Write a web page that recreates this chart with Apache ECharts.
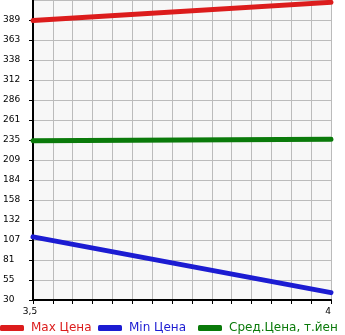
<!DOCTYPE html>
<html><head><meta charset="utf-8">
<script src="https://cdn.jsdelivr.net/npm/echarts@6/dist/echarts.min.js"></script>
<style>html,body{margin:0;padding:0;background:#fff}#c{width:345px;height:335px}</style>
</head><body><div id="c"></div>
<script>
var xValues = [3.5, 4];
var xTickLabels = ['3,5', '4'];
var maxPrice = [388.7, 412];
var minPrice = [111, 39.5];
var avgPrice = [234.5, 236.3];
var yTickLabels = ['30','55','81','107','132','158','184','209','235','261','286','312','338','363','389'];
var seriesNames = ['Max Цена', 'Min Цена', 'Сред.Цена, т.йен'];
var colors = ['#dc1c1c', '#1c1cd2', '#0a7a0a'];
var legendLeft = [0, 98, 198];

function pairs(vals){ return vals.map(function(v,i){ return [xValues[i], v]; }); }
var yMin = 30, yMax = 415, steps = 15;

var chart = echarts.init(document.getElementById('c'), null, {renderer:'canvas'});
var font = 'DejaVu Sans';
chart.setOption({
  animation: false,
  grid: {left: 31, top: 0, width: 300, height: 300, show: true, backgroundColor: '#f7f7f7', borderWidth: 0},
  legend: seriesNames.map(function(n,i){
    return {
      left: legendLeft[i], top: 322, itemWidth: 24, itemHeight: 6, padding: 0,
      icon: 'roundRect', selectedMode: false,
      textStyle: {fontFamily: font, fontSize: 12, color: colors[i], padding: [0,0,0,2]},
      data: [n]
    };
  }),
  xAxis: [
    {type: 'value', min: xValues[0], max: xValues[1], show: false},
    {type: 'value', min: 0, max: steps, interval: 1, position: 'bottom',
     axisLine: {show: true, onZero: false, lineStyle: {color: '#000', width: 2}},
     axisTick: {show: true, length: 4, lineStyle: {color: '#000', width: 1}},
     splitLine: {show: true, lineStyle: {color: '#bbbbbb', width: 1}},
     axisLabel: {show: true, margin: 7, fontFamily: font, fontSize: 9, color: '#000',
       padding: [0,6,0,0],
       showMinLabel: true, showMaxLabel: true,
       formatter: function(v){ return v === 0 ? xTickLabels[0] : (v === steps ? xTickLabels[1] : ''); }}}
  ],
  yAxis: [
    {type: 'value', min: yMin, max: yMax, show: false},
    {type: 'value', min: 0, max: steps, interval: 1, position: 'left',
     axisLine: {show: true, onZero: false, lineStyle: {color: '#000', width: 2}},
     axisTick: {show: true, length: 4, lineStyle: {color: '#000', width: 1}},
     splitLine: {show: true, lineStyle: {color: '#bbbbbb', width: 1}},
     axisLabel: {show: true, margin: 30, align: 'left', verticalAlign: 'middle', padding: [0,0,5,0],
       fontFamily: font, fontSize: 9, color: '#000',
       showMaxLabel: false,
       formatter: function(v){ return yTickLabels[v] !== undefined ? yTickLabels[v] : ''; }}}
  ],
  series: [
    {name: seriesNames[0], type: 'line', xAxisIndex: 0, yAxisIndex: 0, data: pairs(maxPrice), showSymbol: false, symbol: 'none',
     lineStyle: {color: colors[0], width: 5, cap: 'round'}, itemStyle: {color: colors[0]}, z: 5},
    {name: seriesNames[1], type: 'line', xAxisIndex: 0, yAxisIndex: 0, data: pairs(minPrice), showSymbol: false, symbol: 'none',
     lineStyle: {color: colors[1], width: 5, cap: 'round'}, itemStyle: {color: colors[1]}, z: 5},
    {name: seriesNames[2], type: 'line', xAxisIndex: 0, yAxisIndex: 0, data: pairs(avgPrice), showSymbol: false, symbol: 'none',
     lineStyle: {color: colors[2], width: 5, cap: 'round'}, itemStyle: {color: colors[2]}, z: 5}
  ]
});
</script></body></html>
